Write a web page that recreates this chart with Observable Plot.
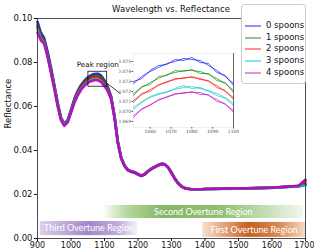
<!DOCTYPE html>
<html><head><meta charset="utf-8">
<script src="https://cdn.jsdelivr.net/npm/d3@7"></script>
<script src="https://cdn.jsdelivr.net/npm/@observablehq/plot@0.6"></script>
<style>
body{margin:0;background:#fff;}
#wrap{position:relative;width:314px;height:252px;font-family:"DejaVu Sans",sans-serif;overflow:hidden;}
#title{position:absolute;left:28px;width:286px;top:4px;text-align:center;font-size:8.5px;color:#111;}
#legend{position:absolute;left:241px;top:4px;width:63px;height:78px;border:1px solid #ccc;border-radius:3px;background:#fff;}
.row{position:absolute;left:0;height:10px;font-size:8.5px;color:#111;}
.row svg{position:absolute;left:2px;top:0;}
.row span{position:absolute;left:24px;top:-1px;white-space:nowrap;}
#inset{position:absolute;left:119px;top:50px;}
</style></head><body><div id="wrap"><div id="title">Wavelength vs. Reflectance</div></div>
<script>
// ---- data ----
const groups = ["0 spoons","1 spoons","2 spoons","3 spoons","4 spoons"];
const colors = ["#0000ff","#008000","#ff0000","#00bfbf","#bf00bf"];
const wavelengths = [900,910,920,930,940,950,960,970,980,990,1000,1010,1020,1030,1040,1050,1060,1070,1080,1090,1100,1110,1120,
  1130,1140,1150,1160,1170,1180,1190,1200,1210,1220,1230,1240,1250,1260,1270,1280,1290,1300,1310,1320,1330,1340,1350,1360,1370,1380,
  1400,1450,1500,1550,1600,1650,1680,1700];
const spoons0 = [.0985,.0935,.0910,.0850,.0778,.0700,.0618,.0550,.0522,.0538,.0585,.0634,.0670,.0698,.0717,.0732,.0742,.0748,.0749,.0740,.0718,.0688,.0645,
  .0556,.0438,.0367,.0331,.0312,.0306,.0302,.0293,.0286,.0293,.0307,.0318,.0326,.0334,.0340,.0338,.0324,.0299,.0273,.0251,.0237,.0229,.0226,.0224,.0223,.0223,
  .0225,.0226,.0228,.0229,.0232,.0236,.0238,.0245];
const spoons1 = [.0970,.0925,.0902,.0842,.0770,.0694,.0613,.0547,.0519,.0535,.0581,.0630,.0666,.0693,.0712,.0727,.0736,.0741,.0741,.0732,.0711,.0682,.0641,
  .0553,.0436,.0366,.0330,.0311,.0304,.0300,.0292,.0285,.0292,.0306,.0317,.0325,.0333,.0339,.0337,.0323,.0298,.0272,.0251,.0237,.0229,.0226,.0224,.0223,.0223,
  .0225,.0226,.0227,.0229,.0231,.0235,.0238,.0250];
const spoons2 = [.0960,.0915,.0895,.0835,.0765,.0690,.0610,.0545,.0518,.0533,.0578,.0626,.0661,.0688,.0706,.0720,.0729,.0734,.0733,.0724,.0705,.0678,.0638,
  .0551,.0434,.0365,.0330,.0311,.0304,.0300,.0292,.0285,.0292,.0306,.0317,.0325,.0333,.0339,.0337,.0323,.0298,.0272,.0251,.0237,.0229,.0226,.0224,.0223,.0223,
  .0225,.0226,.0227,.0229,.0231,.0235,.0239,.0262];
const spoons3 = [.0950,.0908,.0890,.0830,.0760,.0686,.0607,.0542,.0516,.0531,.0575,.0621,.0655,.0681,.0699,.0712,.0720,.0724,.0723,.0715,.0697,.0672,.0634,
  .0549,.0433,.0364,.0329,.0310,.0303,.0299,.0291,.0284,.0291,.0305,.0316,.0324,.0332,.0338,.0336,.0322,.0297,.0271,.0250,.0236,.0228,.0225,.0223,.0222,.0222,
  .0224,.0225,.0226,.0228,.0230,.0234,.0236,.0242];
const spoons4 = [.0935,.0900,.0885,.0825,.0755,.0682,.0603,.0538,.0512,.0528,.0571,.0617,.0650,.0676,.0694,.0707,.0715,.0719,.0719,.0711,.0693,.0669,.0632,
  .0548,.0432,.0364,.0329,.0310,.0303,.0299,.0291,.0284,.0291,.0305,.0316,.0324,.0332,.0338,.0336,.0322,.0297,.0271,.0250,.0236,.0228,.0225,.0224,.0223,.0223,
  .0225,.0226,.0227,.0229,.0231,.0236,.0240,.0268];

// inset (peak region) replicates
const insetWl = [1052,1056,1060,1064,1068,1072,1076,1080,1084,1088,1092,1096,1100];
const inset0a = [.0728,.0735,.0740,.0744,.0748,.0750,.0753,.0752,.0751,.0746,.0741,.0735,.0728];
const inset0b = [.0730,.0733,.0741,.0746,.0747,.0752,.0751,.0754,.0749,.0748,.0739,.0736,.0726];
const inset1a = [.0718,.0724,.0729,.0733,.0737,.0739,.0741,.0741,.0740,.0737,.0733,.0728,.0721];
const inset1b = [.0716,.0725,.0727,.0735,.0736,.0741,.0740,.0742,.0738,.0738,.0731,.0729,.0719];
const inset2a = [.0711,.0717,.0722,.0726,.0730,.0732,.0734,.0734,.0733,.0730,.0726,.0720,.0714];
const inset2b = [.0709,.0718,.0720,.0727,.0729,.0733,.0733,.0735,.0732,.0731,.0724,.0721,.0712];
const inset3a = [.0704,.0710,.0714,.0717,.0720,.0722,.0724,.0725,.0723,.0721,.0718,.0714,.0708];
const inset3b = [.0702,.0709,.0715,.0718,.0719,.0723,.0726,.0723,.0724,.0720,.0716,.0713,.0706];
const inset4a = [.0696,.0702,.0707,.0711,.0715,.0717,.0719,.0719,.0719,.0716,.0712,.0707,.0701];
const inset4b = [.0694,.0703,.0706,.0712,.0714,.0718,.0718,.0720,.0717,.0717,.0710,.0708,.0699];

const xTicks = [900,1000,1100,1200,1300,1400,1500,1600,1700];
const yTicks = [0,0.02,0.04,0.06,0.08,0.10];
const insetXTicks = [1060,1070,1080,1090,1100];
const insetYTicks = [0.069,0.070,0.071,0.072,0.073,0.074,0.075];

const regionNames = ["Third Overtune Region","Second Overtune Region","First Overtune Region"];
const regionFrom = [908,1095,1393];
const regionTo = [1200,1695,1700];
const regionLow = [0.0013,0.0091,0.0005];
const regionHigh = [0.0077,0.0150,0.0073];

const peakBox = {x1:1052, x2:1108, y1:0.0690, y2:0.0758};

// ---- build tables ----
const series = [spoons0,spoons1,spoons2,spoons3,spoons4];
const rows = [];
series.forEach((s,gi)=>s.forEach((v,i)=>rows.push({wl:wavelengths[i], r:v, g:groups[gi]})));
const insetSeries = [[inset0a,0],[inset0b,0],[inset1a,1],[inset1b,1],[inset2a,2],[inset2b,2],[inset3a,3],[inset3b,3],[inset4a,4],[inset4b,4]];
const insetRows = [];
insetSeries.forEach(([s,gi],k)=>s.forEach((v,i)=>insetRows.push({wl:insetWl[i], r:v, g:groups[gi], k})));
const regions = regionNames.map((n,i)=>({name:n, x1:regionFrom[i], x2:regionTo[i], y1:regionLow[i], y2:regionHigh[i], fill:"url(#grad"+i+")"}));
const lastTick = xTicks[xTicks.length-1];

const main = Plot.plot({
  width:314, height:252, marginLeft:37, marginRight:9, marginTop:18, marginBottom:14,
  style:{fontFamily:"DejaVu Sans, sans-serif", fontSize:"8px", color:"#111", background:"transparent"},
  x:{domain:[900,1700]},
  y:{domain:[0,0.10]},
  color:{domain:groups, range:colors},
  marks:[
    ...regions.map(r=>Plot.rect([r],{x1:"x1",x2:"x2",y1:"y1",y2:"y2",fill:r.fill})),
    Plot.text(regions,{x:d=>(d.x1+d.x2)/2, y:d=>(d.y1+d.y2)/2, text:"name", fill:"white", fontFamily:"Lato, sans-serif", fontSize:9}),
    Plot.line(rows,{x:"wl", y:"r", z:"g", stroke:"g", strokeWidth:2.6, strokeOpacity:0.9}),
    Plot.rect([peakBox],{x1:"x1",x2:"x2",y1:"y1",y2:"y2", fill:"none", stroke:"#111", strokeWidth:0.8}),
    Plot.link([{x1:1108,y1:0.0705,x2:1148,y2:0.0658}],{x1:"x1",y1:"y1",x2:"x2",y2:"y2",stroke:"#111",strokeWidth:0.8}),
    Plot.text(["Peak region"],{x:1080, y:0.0791, fontSize:7.2}),
    Plot.frame({stroke:"#222", strokeWidth:0.8}),
    Plot.axisX({ticks:xTicks, tickFormat:d=>d===lastTick?"":String(d), tickSize:3, tickPadding:1, label:null}),
    Plot.text([lastTick],{x:d=>d, frameAnchor:"bottom", dy:9, dx:9, textAnchor:"end", text:d=>String(d), fontSize:8}),
    Plot.axisY({ticks:yTicks, tickFormat:d3.format(".2f"), tickSize:3, tickPadding:2, label:null, fontSize:8.5}),
    Plot.text(["Reflectance"],{frameAnchor:"left", rotate:-90, dx:-29, fontSize:8.5})
  ]
});
const defs = d3.select(main).insert("defs",":first-child");
const gradStops = [
  [[0,"#ddd0ec"],[0.5,"#a287c9"],[0.8,"#bfacdb"],[1,"#f7f3fb"]],
  [[0,"#ffffff"],[0.12,"#b7d6a0"],[0.3,"#86b865"],[0.6,"#92c073"],[1,"#f2f8ee"]],
  [[0,"#f8e0d0"],[0.45,"#c9601f"],[0.75,"#d98a55"],[1,"#f6d8c4"]]
];
gradStops.forEach((st,i)=>{
  const g = defs.append("linearGradient").attr("id","grad"+i).attr("x1","0").attr("x2","1").attr("y1","0").attr("y2","0");
  st.forEach(([o,c])=>g.append("stop").attr("offset",o).attr("stop-color",c));
});
document.getElementById("wrap").appendChild(main);

const inset = Plot.plot({
  width:120, height:85, marginLeft:14, marginRight:6, marginTop:3, marginBottom:8,
  style:{fontFamily:"DejaVu Sans, sans-serif", fontSize:"4.5px", color:"#555", background:"transparent"},
  x:{domain:[1052,1100]},
  y:{domain:[0.0684,0.0758]},
  color:{domain:groups, range:colors},
  marks:[
    Plot.frame({fill:"white", stroke:"#e4e4e4", strokeWidth:0.6}),
    Plot.line(insetRows,{x:"wl", y:"r", z:"k", stroke:"g", strokeWidth:0.8, strokeOpacity:0.8}),
    Plot.ruleX([1100],{stroke:"#444", strokeWidth:0.8}),
    Plot.axisX({ticks:insetXTicks, tickFormat:d=>String(d), tickSize:1.5, tickPadding:1, label:null}),
    Plot.axisY({ticks:insetYTicks, tickFormat:d3.format(".3f"), tickSize:1.5, tickPadding:1, label:null})
  ]
});
inset.id = "inset";
document.getElementById("wrap").appendChild(inset);

// legend
const leg = d3.select("#wrap").append("div").attr("id","legend");
groups.forEach((g,i)=>{
  const row = leg.append("div").attr("class","row").style("top",(20+i*11.7-4)+"px").style("width","63px");
  const s = row.append("svg").attr("width",18).attr("height",10);
  s.append("line").attr("x1",1).attr("x2",17).attr("y1",5).attr("y2",5).attr("stroke",colors[i]).attr("stroke-width",1.6).attr("stroke-opacity",0.55);
  row.append("span").text(g);
});
</script></body></html>
